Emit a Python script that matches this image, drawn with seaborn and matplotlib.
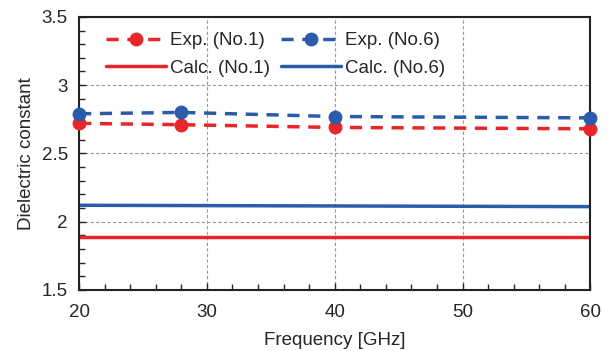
import matplotlib
matplotlib.use("Agg")
import matplotlib.pyplot as plt
import seaborn as sns
import pandas as pd
from matplotlib.ticker import MultipleLocator

freq = [20, 28, 40, 60]
exp_no1 = [2.72, 2.71, 2.69, 2.68]
exp_no6 = [2.79, 2.80, 2.77, 2.76]
calc_x = [20, 60]
calc_no1 = [1.89, 1.89]
calc_no6 = [2.12, 2.11]

red = "#E8262A"
blue = "#2C5BAA"

sns.set_style("ticks")
plt.rcParams['font.family'] = ['Liberation Sans', 'DejaVu Sans']

fig = plt.figure(figsize=(6.13, 3.51), dpi=100)
ax = fig.add_axes([0.129, 0.174, 0.834, 0.778])

df_exp = pd.DataFrame({"f": freq, "n1": exp_no1, "n6": exp_no6})
df_calc = pd.DataFrame({"f": calc_x, "n1": calc_no1, "n6": calc_no6})

sns.lineplot(data=df_exp, x="f", y="n1", ax=ax, color=red, lw=2.5, marker="o",
             markersize=10, markeredgewidth=0, linestyle=(0, (3.5, 2.5)), label="Exp. (No.1)",
             zorder=3, clip_on=False)
sns.lineplot(data=df_exp, x="f", y="n6", ax=ax, color=blue, lw=2.5, marker="o",
             markersize=10, markeredgewidth=0, linestyle=(0, (3.5, 2.5)), label="Exp. (No.6)",
             zorder=3, clip_on=False)
sns.lineplot(data=df_calc, x="f", y="n1", ax=ax, color=red, lw=2.5, label="Calc. (No.1)", zorder=2)
sns.lineplot(data=df_calc, x="f", y="n6", ax=ax, color=blue, lw=2.5, label="Calc. (No.6)", zorder=2)

ax.set_xlim(20, 60)
ax.set_ylim(1.5, 3.5)
ax.xaxis.set_major_locator(MultipleLocator(10))
ax.xaxis.set_minor_locator(MultipleLocator(2))
ax.yaxis.set_major_locator(MultipleLocator(0.5))
ax.yaxis.set_minor_locator(MultipleLocator(0.1))
ax.set_yticks([1.5, 2, 2.5, 3, 3.5])
ax.set_yticklabels(["1.5", "2", "2.5", "3", "3.5"])
ax.tick_params(which="both", direction="in", labelsize=13.5, top=False, right=False)
ax.tick_params(which="major", length=5, width=1)
ax.tick_params(which="minor", length=4, width=1)
ax.tick_params(axis="x", pad=10)
ax.tick_params(axis="y", pad=8)
ax.grid(True, which="major", color="#999999", linestyle=(0, (3, 2)), lw=0.8)
for s in ax.spines.values():
    s.set_linewidth(1.5)
    s.set_color("#222222")
ax.set_xlabel("Frequency [GHz]", fontsize=13.5, labelpad=8)
ax.set_ylabel("Dielectric constant", fontsize=13.5, labelpad=5)

handles, labels = ax.get_legend_handles_labels()
order = [0, 2, 1, 3]
ax.legend([handles[i] for i in order], [labels[i] for i in order], ncol=2, frameon=False,
          fontsize=13.5, loc="upper left", bbox_to_anchor=(0.02, 1.005), handlelength=3.2,
          handletextpad=0.2, columnspacing=0.6, labelspacing=0.55, markerscale=1.0)

fig.savefig("out.png", dpi=100)
